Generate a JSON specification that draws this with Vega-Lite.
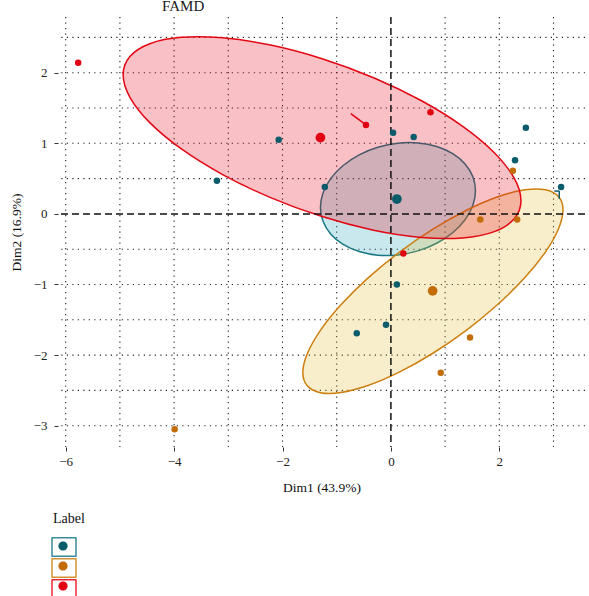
{
  "$schema": "https://vega.github.io/schema/vega-lite/v6.json",
  "width": 527,
  "height": 430,
  "autosize": {"type": "none"},
  "padding": {"left": 58, "top": 17, "right": 4, "bottom": 149},
  "background": "white",
  "config": {
    "view": {"stroke": null},
    "font": "Liberation Serif",
    "axis": {"grid": false, "domain": false, "tickColor": "#333333", "tickSize": 4, "tickWidth": 1, "labelFont": "Liberation Serif", "labelFontSize": 13, "labelColor": "#222222", "titleFont": "Liberation Serif", "titleFontSize": 13.5, "titleFontWeight": "normal", "titleColor": "#111111", "format": "d"},
    "axisX": {"labelPadding": 4, "titlePadding": 12},
    "axisY": {"labelPadding": 7, "titlePadding": 10},
    "legend": {"titleFont": "Liberation Serif", "labelFont": "Liberation Serif"}
  },
  "title": {"text": "FAMD", "anchor": "start", "frame": "group", "dx": 104, "dy": 15, "offset": 5, "fontSize": 15, "fontWeight": "normal", "font": "Liberation Serif", "color": "#1a1a1a", "baseline": "alphabetic"},
  "datasets": {
    "gridx": [{"x": -6}, {"x": -5}, {"x": -4}, {"x": -3}, {"x": -2}, {"x": -1}, {"x": 1}, {"x": 2}, {"x": 3}],
    "gridy": [{"y": -3}, {"y": -2.5}, {"y": -2}, {"y": -1.5}, {"y": -1}, {"y": -0.5}, {"y": 0.5}, {"y": 1}, {"y": 1.5}, {"y": 2}, {"y": 2.5}],
    "ellipses": [
      {"grp": "ellipse 1", "i": 0, "x": 1.56, "y": 0.328},
      {"grp": "ellipse 1", "i": 1, "x": 1.511, "y": 0.529},
      {"grp": "ellipse 1", "i": 2, "x": 1.368, "y": 0.7075},
      {"grp": "ellipse 1", "i": 3, "x": 1.141, "y": 0.8527},
      {"grp": "ellipse 1", "i": 4, "x": 0.845, "y": 0.954},
      {"grp": "ellipse 1", "i": 5, "x": 0.5, "y": 1.0045},
      {"grp": "ellipse 1", "i": 6, "x": 0.13, "y": 1.001},
      {"grp": "ellipse 1", "i": 7, "x": -0.24, "y": 0.9435},
      {"grp": "ellipse 1", "i": 8, "x": -0.585, "y": 0.836},
      {"grp": "ellipse 1", "i": 9, "x": -0.881, "y": 0.6859},
      {"grp": "ellipse 1", "i": 10, "x": -1.108, "y": 0.5035},
      {"grp": "ellipse 1", "i": 11, "x": -1.251, "y": 0.301},
      {"grp": "ellipse 1", "i": 12, "x": -1.3, "y": 0.092},
      {"grp": "ellipse 1", "i": 13, "x": -1.251, "y": -0.109},
      {"grp": "ellipse 1", "i": 14, "x": -1.108, "y": -0.2875},
      {"grp": "ellipse 1", "i": 15, "x": -0.881, "y": -0.4327},
      {"grp": "ellipse 1", "i": 16, "x": -0.585, "y": -0.534},
      {"grp": "ellipse 1", "i": 17, "x": -0.24, "y": -0.5845},
      {"grp": "ellipse 1", "i": 18, "x": 0.13, "y": -0.581},
      {"grp": "ellipse 1", "i": 19, "x": 0.5, "y": -0.5235},
      {"grp": "ellipse 1", "i": 20, "x": 0.845, "y": -0.416},
      {"grp": "ellipse 1", "i": 21, "x": 1.141, "y": -0.2659},
      {"grp": "ellipse 1", "i": 22, "x": 1.368, "y": -0.0835},
      {"grp": "ellipse 1", "i": 23, "x": 1.511, "y": 0.119},
      {"grp": "ellipse 2", "i": 0, "x": 3.175, "y": 0.057},
      {"grp": "ellipse 2", "i": 1, "x": 3.093, "y": 0.2455},
      {"grp": "ellipse 2", "i": 2, "x": 2.853, "y": 0.342},
      {"grp": "ellipse 2", "i": 3, "x": 2.472, "y": 0.341},
      {"grp": "ellipse 2", "i": 4, "x": 1.975, "y": 0.2422},
      {"grp": "ellipse 2", "i": 5, "x": 1.396, "y": 0.052},
      {"grp": "ellipse 2", "i": 6, "x": 0.775, "y": -0.216},
      {"grp": "ellipse 2", "i": 7, "x": 0.154, "y": -0.544},
      {"grp": "ellipse 2", "i": 8, "x": -0.425, "y": -0.9098},
      {"grp": "ellipse 2", "i": 9, "x": -0.922, "y": -1.2881},
      {"grp": "ellipse 2", "i": 10, "x": -1.303, "y": -1.6531},
      {"grp": "ellipse 2", "i": 11, "x": -1.543, "y": -1.9805},
      {"grp": "ellipse 2", "i": 12, "x": -1.625, "y": -2.247},
      {"grp": "ellipse 2", "i": 13, "x": -1.543, "y": -2.4355},
      {"grp": "ellipse 2", "i": 14, "x": -1.303, "y": -2.532},
      {"grp": "ellipse 2", "i": 15, "x": -0.922, "y": -2.531},
      {"grp": "ellipse 2", "i": 16, "x": -0.425, "y": -2.432},
      {"grp": "ellipse 2", "i": 17, "x": 0.154, "y": -2.242},
      {"grp": "ellipse 2", "i": 18, "x": 0.775, "y": -1.974},
      {"grp": "ellipse 2", "i": 19, "x": 1.396, "y": -1.646},
      {"grp": "ellipse 2", "i": 20, "x": 1.975, "y": -1.28},
      {"grp": "ellipse 2", "i": 21, "x": 2.472, "y": -0.902},
      {"grp": "ellipse 2", "i": 22, "x": 2.853, "y": -0.537},
      {"grp": "ellipse 2", "i": 23, "x": 3.093, "y": -0.2095},
      {"grp": "ellipse 3", "i": 0, "x": 2.4, "y": 0.189},
      {"grp": "ellipse 3", "i": 1, "x": 2.275, "y": 0.508},
      {"grp": "ellipse 3", "i": 2, "x": 1.908, "y": 0.867},
      {"grp": "ellipse 3", "i": 3, "x": 1.325, "y": 1.2405},
      {"grp": "ellipse 3", "i": 4, "x": 0.565, "y": 1.6025},
      {"grp": "ellipse 3", "i": 5, "x": -0.32, "y": 1.929},
      {"grp": "ellipse 3", "i": 6, "x": -1.27, "y": 2.198},
      {"grp": "ellipse 3", "i": 7, "x": -2.22, "y": 2.391},
      {"grp": "ellipse 3", "i": 8, "x": -3.105, "y": 2.4935},
      {"grp": "ellipse 3", "i": 9, "x": -3.865, "y": 2.5005},
      {"grp": "ellipse 3", "i": 10, "x": -4.448, "y": 2.411},
      {"grp": "ellipse 3", "i": 11, "x": -4.815, "y": 2.23},
      {"grp": "ellipse 3", "i": 12, "x": -4.94, "y": 1.971},
      {"grp": "ellipse 3", "i": 13, "x": -4.815, "y": 1.652},
      {"grp": "ellipse 3", "i": 14, "x": -4.448, "y": 1.293},
      {"grp": "ellipse 3", "i": 15, "x": -3.865, "y": 0.9195},
      {"grp": "ellipse 3", "i": 16, "x": -3.105, "y": 0.5575},
      {"grp": "ellipse 3", "i": 17, "x": -2.22, "y": 0.2306},
      {"grp": "ellipse 3", "i": 18, "x": -1.27, "y": -0.038},
      {"grp": "ellipse 3", "i": 19, "x": -0.32, "y": -0.2306},
      {"grp": "ellipse 3", "i": 20, "x": 0.565, "y": -0.3335},
      {"grp": "ellipse 3", "i": 21, "x": 1.325, "y": -0.3405},
      {"grp": "ellipse 3", "i": 22, "x": 1.908, "y": -0.251},
      {"grp": "ellipse 3", "i": 23, "x": 2.275, "y": -0.07}
    ],
    "segments": [
      {"x": -0.74, "y": 1.42, "x2": -0.46, "y2": 1.26, "color_of": "3"},
      {"x": 3.015, "y": 0.324, "x2": 3.106, "y2": 0.324, "color_of": "1"},
      {"x": 3.106, "y": 0.324, "x2": 3.106, "y2": 0.215, "color_of": "1"}
    ],
    "points": [
      {"Label": "1", "type": "ind", "x": -3.21, "y": 0.47},
      {"Label": "1", "type": "ind", "x": -2.07, "y": 1.05},
      {"Label": "1", "type": "ind", "x": -1.22, "y": 0.38},
      {"Label": "1", "type": "ind", "x": 0.04, "y": 1.15},
      {"Label": "1", "type": "ind", "x": 0.42, "y": 1.09},
      {"Label": "1", "type": "ind", "x": 2.49, "y": 1.22},
      {"Label": "1", "type": "ind", "x": 2.29, "y": 0.76},
      {"Label": "1", "type": "ind", "x": 3.14, "y": 0.38},
      {"Label": "1", "type": "ind", "x": 0.11, "y": -1.0},
      {"Label": "1", "type": "ind", "x": -0.09, "y": -1.57},
      {"Label": "1", "type": "ind", "x": -0.63, "y": -1.69},
      {"Label": "1", "type": "mean", "x": 0.11, "y": 0.21},
      {"Label": "2", "type": "ind", "x": 2.25, "y": 0.61},
      {"Label": "2", "type": "ind", "x": 1.65, "y": -0.08},
      {"Label": "2", "type": "ind", "x": 2.33, "y": -0.08},
      {"Label": "2", "type": "ind", "x": 1.46, "y": -1.75},
      {"Label": "2", "type": "ind", "x": 0.92, "y": -2.25},
      {"Label": "2", "type": "ind", "x": -3.99, "y": -3.05},
      {"Label": "2", "type": "mean", "x": 0.77, "y": -1.09},
      {"Label": "3", "type": "ind", "x": -5.77, "y": 2.14},
      {"Label": "3", "type": "ind", "x": -0.46, "y": 1.26},
      {"Label": "3", "type": "ind", "x": 0.73, "y": 1.44},
      {"Label": "3", "type": "ind", "x": 0.23, "y": -0.56},
      {"Label": "3", "type": "mean", "x": -1.3, "y": 1.08}
    ]
  },
  "layer": [
    {
      "data": {"name": "gridx"},
      "mark": {"type": "rule", "color": "#222222", "strokeWidth": 1.1, "strokeDash": [1.2, 4.3]},
      "encoding": {
        "x": {
          "field": "x", "type": "quantitative", "title": "Dim1 (43.9%)",
          "scale": {"domain": [-6.142, 3.581], "nice": false, "zero": false},
          "axis": {"values": [-6, -4, -2, 0, 2], "format": "d"}
        }
      }
    },
    {
      "data": {"name": "gridy"},
      "mark": {"type": "rule", "color": "#222222", "strokeWidth": 1.1, "strokeDash": [1.2, 4.3]},
      "encoding": {
        "y": {
          "field": "y", "type": "quantitative", "title": "Dim2 (16.9%)",
          "scale": {"domain": [-3.302, 2.789], "nice": false, "zero": false},
          "axis": {"values": [-3, -2, -1, 0, 1, 2], "format": "d"}
        }
      }
    },
    {
      "data": {"name": "ellipses"},
      "mark": {"type": "line", "interpolate": "cardinal-closed", "strokeWidth": 1.5, "fillOpacity": 0.25},
      "encoding": {
        "x": {"field": "x", "type": "quantitative", "title": "Dim1 (43.9%)"},
        "y": {"field": "y", "type": "quantitative", "title": "Dim2 (16.9%)"},
        "order": {"field": "i", "type": "quantitative"},
        "stroke": {
          "field": "grp", "type": "nominal",
          "scale": {"domain": ["ellipse 1", "ellipse 2", "ellipse 3"], "range": ["#177785", "#CD7F10", "#E30613"]},
          "legend": {
            "orient": "none", "legendX": -5, "legendY": 495, "title": "Label", "titleFontSize": 14, "titleFontWeight": "normal", "titleColor": "#111111", "titlePadding": 10, "padding": 0, "rowPadding": 0,
            "symbolType": "M-1.2,-0.92L1.2,-0.92L1.2,0.92L-1.2,0.92Z", "symbolSize": 400, "symbolStrokeWidth": 0, "symbolFillColor": "transparent", "labelOpacity": 0, "labelFontSize": 20,
            "encode": {"symbols": {"update": {"fill": {"value": "transparent"}, "strokeWidth": {"value": 1.5}, "strokeJoin": {"value": "round"}, "opacity": {"value": 0.85}}}}
          }
        },
        "fill": {
          "field": "grp", "type": "nominal",
          "scale": {"domain": ["ellipse 3", "ellipse 2", "ellipse 1"], "range": ["#E7031B", "#E3BB2F", "#23A3BB"]},
          "legend": null
        }
      }
    },
    {
      "data": {"values": [{"x": 0}]},
      "mark": {"type": "rule", "color": "#111111", "strokeWidth": 1.5, "strokeDash": [7, 4]},
      "encoding": {"x": {"field": "x", "type": "quantitative", "title": "Dim1 (43.9%)"}}
    },
    {
      "data": {"values": [{"y": 0}]},
      "mark": {"type": "rule", "color": "#111111", "strokeWidth": 1.5, "strokeDash": [7, 4]},
      "encoding": {"y": {"field": "y", "type": "quantitative", "title": "Dim2 (16.9%)"}}
    },
    {
      "data": {"name": "segments"},
      "mark": {"type": "rule", "strokeWidth": 1.5},
      "encoding": {
        "x": {"field": "x", "type": "quantitative", "title": "Dim1 (43.9%)"},
        "y": {"field": "y", "type": "quantitative", "title": "Dim2 (16.9%)"},
        "x2": {"field": "x2"},
        "y2": {"field": "y2"},
        "color": {"field": "color_of", "type": "nominal", "scale": {"domain": ["1", "2", "3"], "range": ["#0A5C6A", "#C26C08", "#E00012"]}}
      }
    },
    {
      "data": {"name": "points"},
      "mark": {"type": "point", "filled": true, "opacity": 1, "shape": "circle"},
      "encoding": {
        "x": {"field": "x", "type": "quantitative", "title": "Dim1 (43.9%)"},
        "y": {"field": "y", "type": "quantitative", "title": "Dim2 (16.9%)"},
        "size": {"field": "type", "type": "nominal", "scale": {"domain": ["ind", "mean"], "range": [42, 95]}, "legend": null},
        "color": {
          "field": "Label", "type": "nominal",
          "scale": {"domain": ["1", "2", "3"], "range": ["#0A5C6A", "#C26C08", "#E00012"]},
          "legend": {
            "orient": "none", "legendX": -5, "legendY": 495, "title": "Label", "titleOpacity": 0, "titleFontSize": 14, "titleFontWeight": "normal", "titlePadding": 10, "padding": 0, "rowPadding": 0,
            "symbolType": "M-0.46,0A0.46,0.46,0,1,1,0.46,0A0.46,0.46,0,1,1,-0.46,0Z", "symbolSize": 400, "symbolStrokeWidth": 0, "symbolOpacity": 1, "labelOpacity": 0, "labelFontSize": 20
          }
        }
      }
    }
  ]
}
